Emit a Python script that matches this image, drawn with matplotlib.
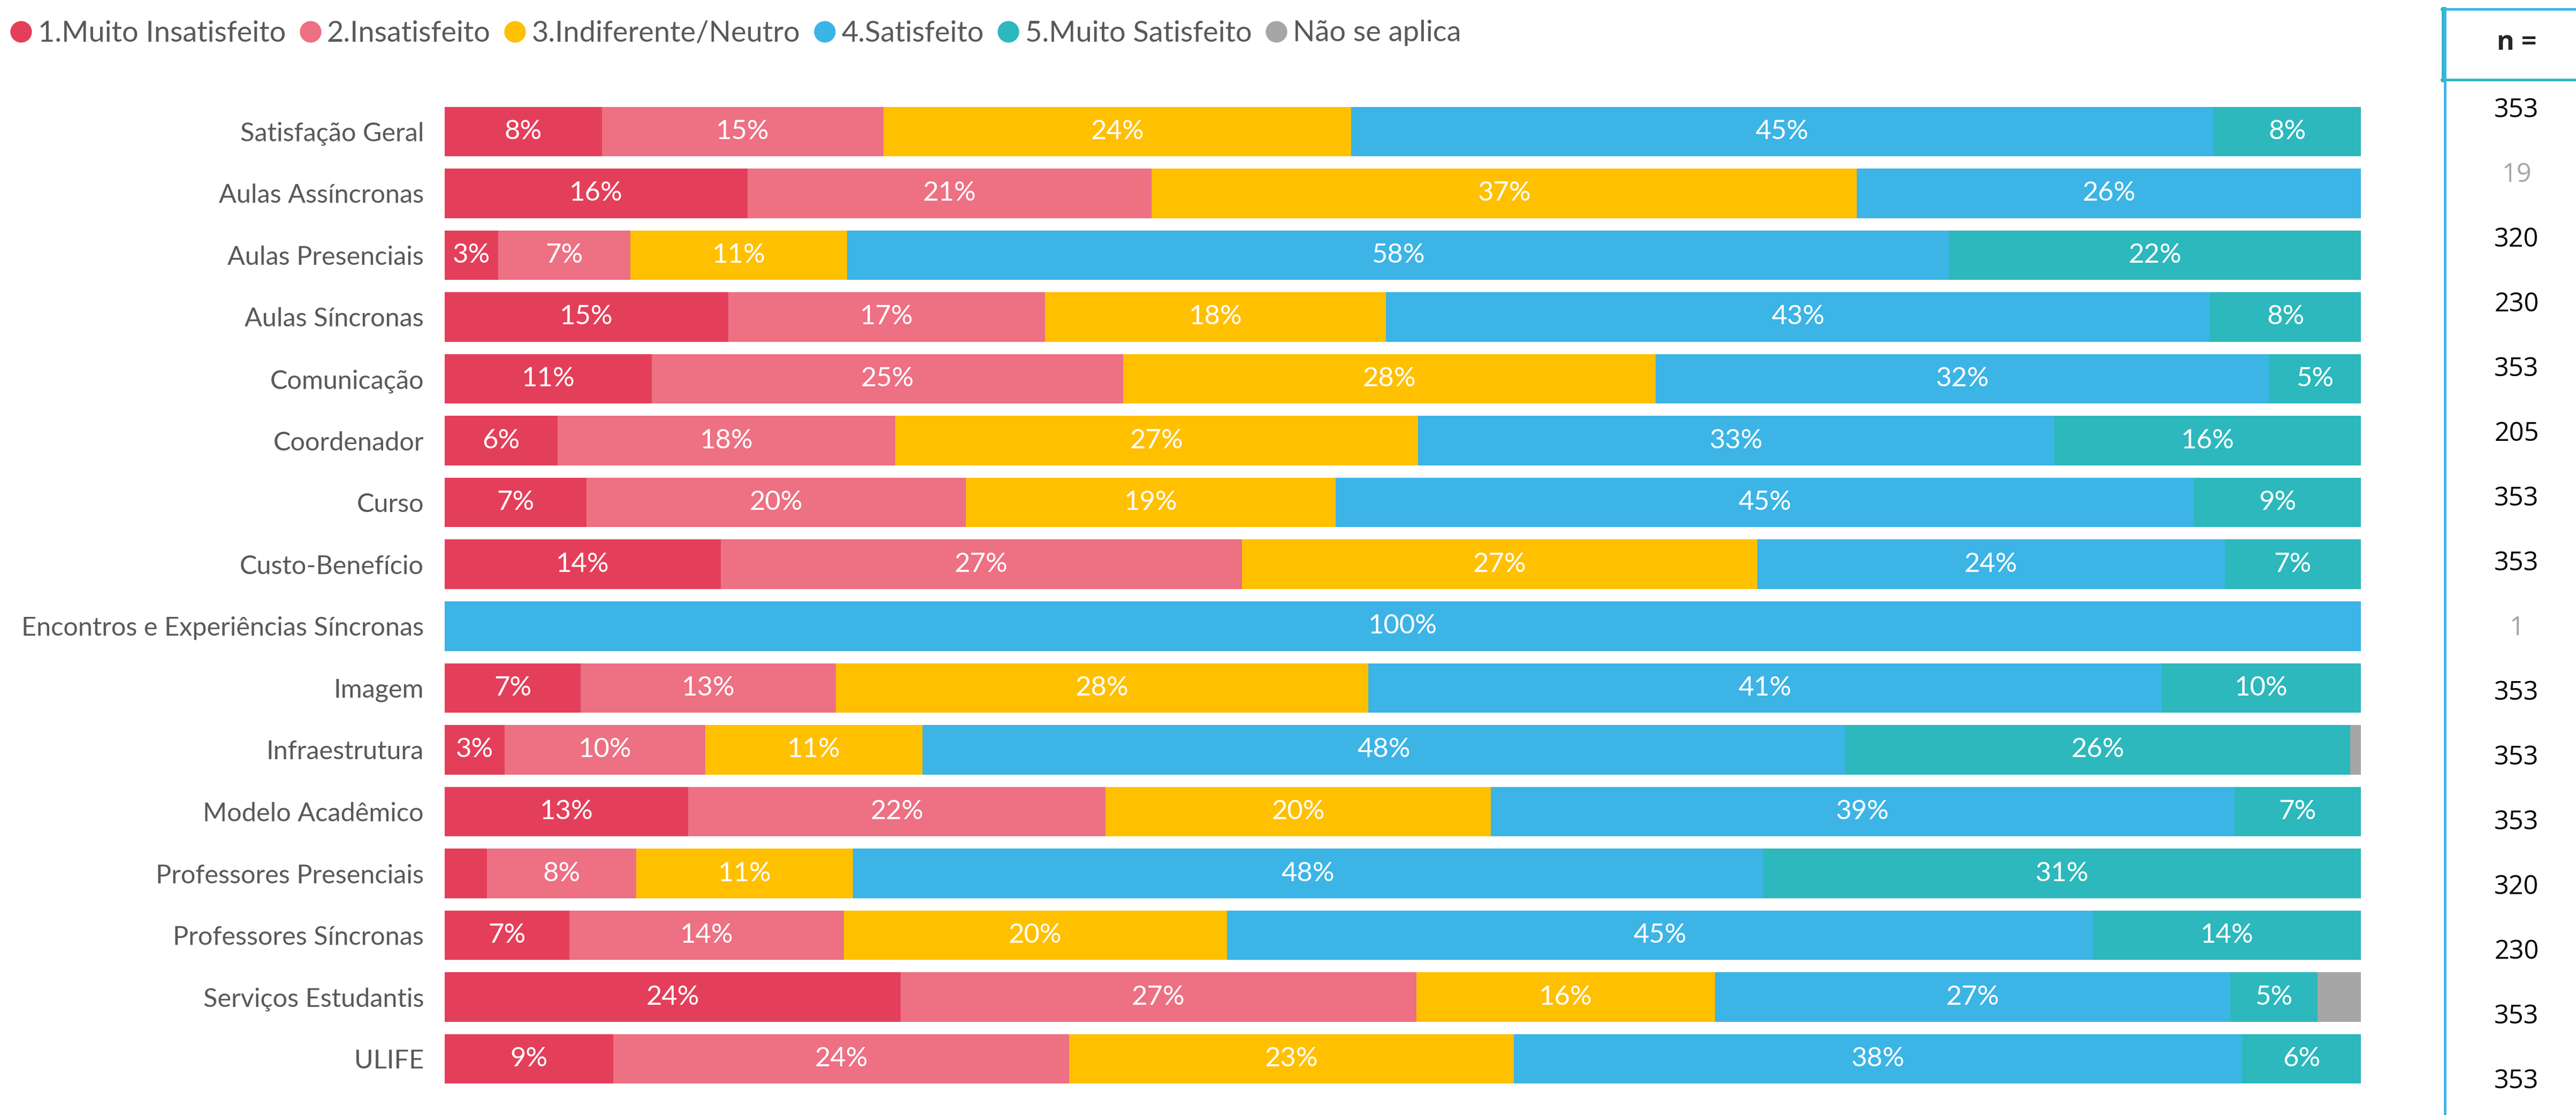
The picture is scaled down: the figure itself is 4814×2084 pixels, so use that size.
import numpy as np
import matplotlib
matplotlib.use('Agg')
import matplotlib.pyplot as plt
from matplotlib.lines import Line2D

categorias = ['Satisfação Geral', 'Aulas Assíncronas', 'Aulas Presenciais', 'Aulas Síncronas',
              'Comunicação', 'Coordenador', 'Curso', 'Custo-Benefício',
              'Encontros e Experiências Síncronas', 'Imagem', 'Infraestrutura',
              'Modelo Acadêmico', 'Professores Presenciais', 'Professores Síncronas',
              'Serviços Estudantis', 'ULIFE']

# % por nivel de satisfacao
muito_insat = [8.2, 15.8, 2.8, 14.8, 10.8, 5.9, 7.4, 14.4, 0.0, 7.1, 3.12, 12.7, 2.2, 6.52, 23.8, 8.8]
insat = [14.7, 21.1, 6.9, 16.52, 24.6, 17.6, 19.8, 27.2, 0.0, 13.3, 10.48, 21.8, 7.8, 14.3, 26.9, 23.8]
neutro = [24.4, 36.8, 11.3, 17.8, 27.8, 27.3, 19.3, 26.9, 0.0, 27.8, 11.33, 20.1, 11.3, 20.0, 15.6, 23.2]
satisf = [45.0, 26.3, 57.5, 43.0, 32.0, 33.2, 44.8, 24.4, 100.0, 41.4, 48.16, 38.8, 47.5, 45.2, 26.9, 38.0]
muito_satisf = [7.7, 0.0, 21.5, 7.9, 4.8, 16.0, 8.7, 7.1, 0.0, 10.4, 26.35, 6.6, 31.2, 14.0, 4.53, 6.2]
nao_aplica = [0.0, 0.0, 0.0, 0.0, 0.0, 0.0, 0.0, 0.0, 0.0, 0.0, 0.57, 0.0, 0.0, 0.0, 2.27, 0.0]

n_resp = [353, 19, 320, 230, 353, 205, 353, 353, 1, 353, 353, 353, 320, 230, 353, 353]

niveis = ['1.Muito Insatisfeito', '2.Insatisfeito', '3.Indiferente/Neutro',
          '4.Satisfeito', '5.Muito Satisfeito', 'Não se aplica']
cores = ['#E43F5A', '#ED7083', '#FFC000', '#3CB4E5', '#2CB8BC', '#A6A6A6']

series = [muito_insat, insat, neutro, satisf, muito_satisf, nao_aplica]

W, H = 4814, 2084
fig = plt.figure(figsize=(W / 100, H / 100), dpi=100)
ax = fig.add_axes([831 / W, 1 - 2037 / H, (4412 - 831) / W, (2037 - 188) / H])

fonte = 'Lato'
cinza = '#595959'

y = np.arange(len(categorias))
left = np.zeros(len(categorias))
for vals, cor in zip(series, cores):
    vals = np.array(vals)
    ax.barh(y, vals, left=left, height=0.8, color=cor, linewidth=0)
    for i in range(len(vals)):
        if vals[i] >= 2.5 and cor != '#A6A6A6':
            ax.text(left[i] + vals[i] / 2, y[i], '%d%%' % int(vals[i] + 0.5),
                    ha='center', va='center', color='white', fontsize=36.5, family=fonte)
    left = left + vals

ax.set_xlim(0, 100)
ax.set_ylim(len(categorias) - 0.5, -0.5)
ax.set_yticks(y)
ax.set_yticklabels(categorias, family=fonte, fontsize=35, color=cinza)
ax.tick_params(axis='y', length=0, pad=28)
ax.set_xticks([])
for s in ax.spines.values():
    s.set_visible(False)

# legenda
handles = [Line2D([], [], marker='o', linestyle='none', markersize=28,
                  markerfacecolor=c, markeredgecolor=c) for c in cores]
fig.legend(handles, niveis, loc='center left', bbox_to_anchor=(15 / W, 1 - 62 / H),
           ncol=6, frameon=False, handlelength=0.9, handletextpad=0.13,
           columnspacing=0.39, borderaxespad=0, borderpad=0,
           prop={'family': fonte, 'size': 39}, labelcolor=cinza)

# tabela n =
azul = '#3DB5E6'
verde = '#2CB8BC'
fig.add_artist(Line2D([4563 / W, 1], [1 - 17 / H, 1 - 17 / H], color=azul, lw=3.5))
fig.add_artist(Line2D([4563 / W, 1], [1 - 149 / H, 1 - 149 / H], color=verde, lw=3.5))
fig.add_artist(Line2D([4565 / W, 4565 / W], [1 - 15 / H, 1 - 151 / H], color=verde, lw=3.5))
fig.add_artist(Line2D([4569 / W, 4569 / W], [1 - 15 / H, 0], color=azul, lw=3.5))

fig.text(4703 / W, 1 - 80 / H, 'n =', ha='center', va='center', fontsize=36,
         fontweight='bold', color='#262626', family='Open Sans')
for i, n in enumerate(n_resp):
    cor_n = '#A6A6A6' if n < 30 else 'black'
    fig.text(4703 / W, 1 - (206 + i * 121) / H, str(n), ha='center', va='center',
             fontsize=35, color=cor_n, family='Open Sans')

fig.savefig('out.png', dpi=100)
